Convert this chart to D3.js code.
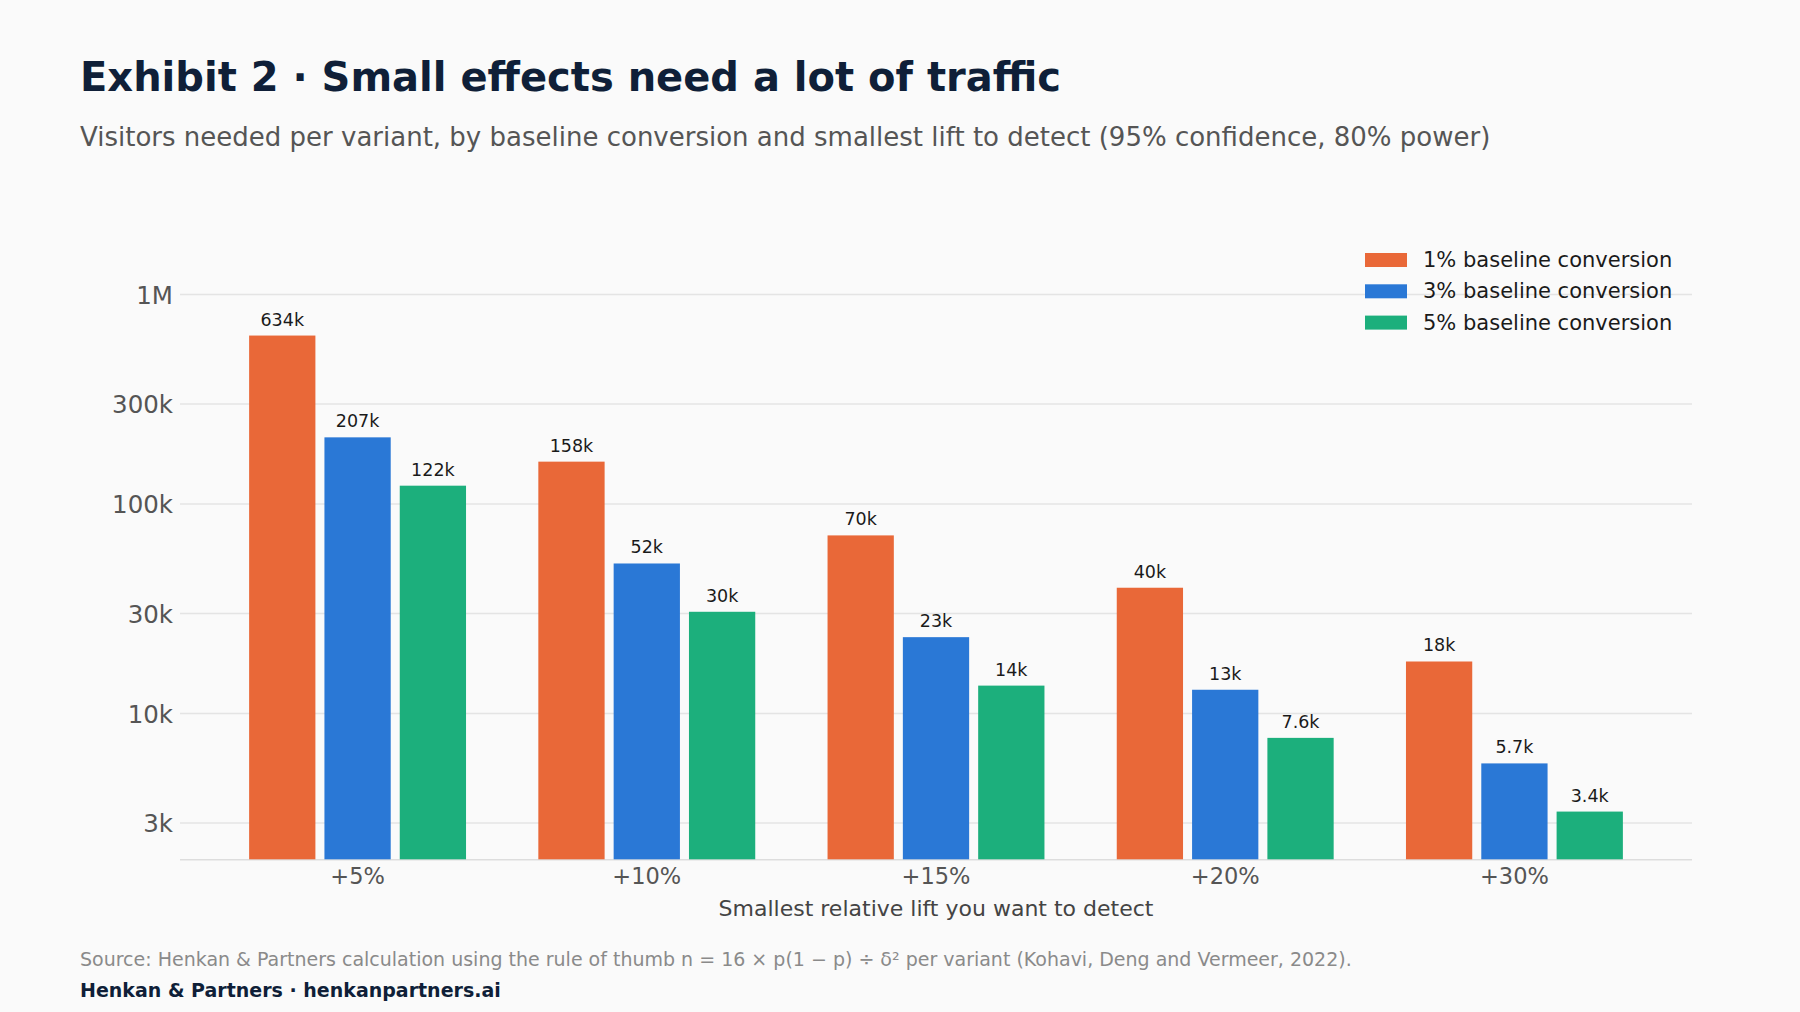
<!DOCTYPE html>
<html>
<head>
<meta charset="utf-8">
<script src="https://cdn.jsdelivr.net/npm/d3@7"></script>
<style>
  body { margin: 0; background: #fafafa; }
  svg { display: block; font-family: "DejaVu Sans", sans-serif; }
</style>
</head>
<body>
<div id="chart"></div>
<script>
const categories = ["+5%", "+10%", "+15%", "+20%", "+30%"];
const seriesNames = [
  "1% baseline conversion",
  "3% baseline conversion",
  "5% baseline conversion",
];
const seriesColors = ["#e96838", "#2a78d6", "#1caf7c"];

// visitors needed per variant
const base1 = [633600, 158400, 70400, 39600, 17600];
const base3 = [206900, 51700, 23000, 12900, 5740];
const base5 = [121600, 30400, 13500, 7600, 3380];

const yTicks = [3000, 10000, 30000, 100000, 300000, 1000000];
const yTickLabels = ["3k", "10k", "30k", "100k", "300k", "1M"];

const W = 1800,
  H = 1012;
const margin = { top: 231, right: 108, bottom: 152.7, left: 180 },
  width = W - margin.left - margin.right,
  height = H - margin.top - margin.bottom;

const fmtVal = (v) =>
  v >= 10000 ? Math.round(v / 1000) + "k" : (v / 1000).toFixed(1) + "k";

const data = [];
categories.forEach((c, i) => {
  [base1, base3, base5].forEach((s, j) => {
    data.push({ cat: c, series: seriesNames[j], value: s[i] });
  });
});

const svg = d3
  .select("#chart")
  .append("svg")
  .attr("width", W)
  .attr("height", H);

svg.append("rect").attr("width", W).attr("height", H).attr("fill", "#fafafa");

// titles
svg
  .append("text")
  .attr("x", 80)
  .attr("y", 91)
  .attr("font-size", 40)
  .attr("font-weight", "bold")
  .attr("fill", "#0f1f38")
  .text("Exhibit 2 \u00b7 Small effects need a lot of traffic");

svg
  .append("text")
  .attr("x", 80)
  .attr("y", 146)
  .attr("font-size", 26)
  .attr("fill", "#555555")
  .text(
    "Visitors needed per variant, by baseline conversion and smallest lift to detect (95% confidence, 80% power)"
  );

const g = svg
  .append("g")
  .attr("transform", "translate(" + margin.left + "," + margin.top + ")");

const x0 = d3
  .scaleBand()
  .domain(categories)
  .range([0, width])
  .paddingInner(0)
  .paddingOuter(0.114);

const x1 = d3
  .scaleBand()
  .domain(seriesNames)
  .range([x0.bandwidth() * 0.125, x0.bandwidth() * 0.875])
  .paddingInner(0.12);

const y = d3.scaleLog().domain([2000, 2000000]).range([height, 0]);

const color = d3.scaleOrdinal().domain(seriesNames).range(seriesColors);

// grid
const yGrid = g
  .append("g")
  .call(d3.axisLeft(y).tickValues(yTicks).tickSize(-width).tickFormat(""));
yGrid.select(".domain").remove();
yGrid.selectAll("line").attr("stroke", "#e4e4e4").attr("stroke-width", 1.5);

// y axis labels
const yAxisG = g
  .append("g")
  .call(
    d3
      .axisLeft(y)
      .tickValues(yTicks)
      .tickSize(0)
      .tickPadding(7)
      .tickFormat((d, i) => yTickLabels[i])
  );
yAxisG.select(".domain").remove();
yAxisG
  .selectAll("text")
  .attr("font-size", 24.5)
  .attr("fill", "#555555")
  .attr("font-family", "DejaVu Sans")
  .attr("dy", "0.38em");

// baseline
g.append("line")
  .attr("x1", 0)
  .attr("x2", width)
  .attr("y1", height + 0.5)
  .attr("y2", height + 0.5)
  .attr("stroke", "#dddddd")
  .attr("stroke-width", 1.5);

// bars
const groups = g
  .selectAll(".grp")
  .data(categories)
  .enter()
  .append("g")
  .attr("transform", (d) => "translate(" + x0(d) + ",0)");

groups
  .selectAll("rect")
  .data((c) => data.filter((d) => d.cat === c))
  .enter()
  .append("rect")
  .attr("x", (d) => x1(d.series))
  .attr("y", (d) => y(d.value))
  .attr("width", x1.bandwidth())
  .attr("height", (d) => height - y(d.value))
  .attr("fill", (d) => color(d.series));

groups
  .selectAll(".lbl")
  .data((c) => data.filter((d) => d.cat === c))
  .enter()
  .append("text")
  .attr("x", (d) => x1(d.series) + x1.bandwidth() / 2)
  .attr("y", (d) => y(d.value) - 10)
  .attr("text-anchor", "middle")
  .attr("font-size", 17.5)
  .attr("fill", "#1a1a1a")
  .text((d) => fmtVal(d.value));

// x axis
const xAxisG = g
  .append("g")
  .attr("transform", "translate(0," + height + ")")
  .call(d3.axisBottom(x0).tickSize(0).tickPadding(8));
xAxisG.select(".domain").remove();
xAxisG
  .selectAll("text")
  .attr("font-size", 22.5)
  .attr("fill", "#555555")
  .attr("font-family", "DejaVu Sans")
  .attr("dy", "0")
  .attr("y", 25);

g.append("text")
  .attr("x", width / 2)
  .attr("y", height + 57)
  .attr("text-anchor", "middle")
  .attr("font-size", 22)
  .attr("fill", "#444444")
  .text("Smallest relative lift you want to detect");

// legend
const legend = svg
  .append("g")
  .attr("transform", "translate(1365,253)");

seriesNames.forEach((s, i) => {
  const row = legend.append("g").attr("transform", "translate(0," + i * 31.3 + ")");
  row
    .append("rect")
    .attr("width", 42)
    .attr("height", 14)
    .attr("fill", color(s));
  row
    .append("text")
    .attr("x", 58)
    .attr("y", 14)
    .attr("font-size", 21)
    .attr("fill", "#1a1a1a")
    .text(s);
});

// footer
svg
  .append("text")
  .attr("x", 80)
  .attr("y", 966)
  .attr("font-size", 19)
  .attr("fill", "#8a8a8a")
  .text(
    "Source: Henkan & Partners calculation using the rule of thumb n = 16 \u00d7 p(1 \u2212 p) \u00f7 \u03b4\u00b2 per variant (Kohavi, Deng and Vermeer, 2022)."
  );

svg
  .append("text")
  .attr("x", 80)
  .attr("y", 997)
  .attr("font-size", 19)
  .attr("font-weight", "bold")
  .attr("fill", "#0f1f38")
  .text("Henkan & Partners \u00b7 henkanpartners.ai");
</script>
</body>
</html>
